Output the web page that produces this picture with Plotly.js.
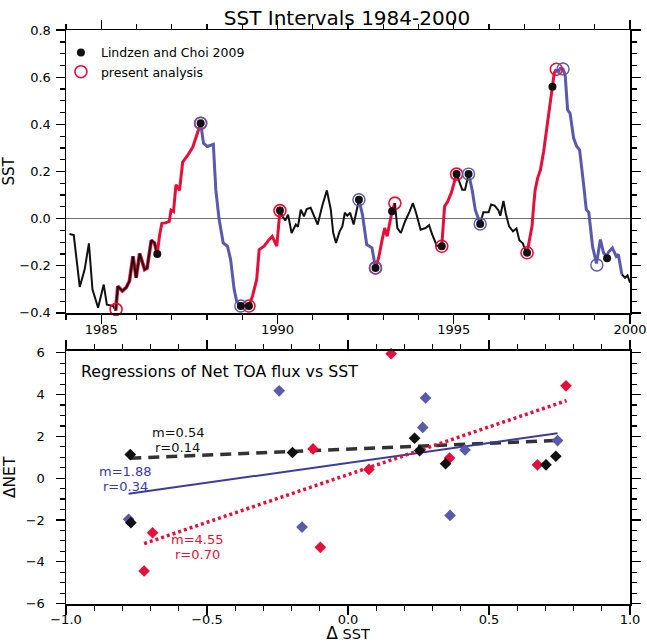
<!DOCTYPE html>
<html>
<head>
<meta charset="utf-8">
<script src="https://cdn.plot.ly/plotly-3.0.1.min.js"></script>
<style>html,body{margin:0;padding:0;background:#fff;}</style>
</head>
<body>
<div id="chart" style="width:647px;height:643px;"></div>
<script>
// ---------- Top panel: SST time series ----------
const sstYear = [
  1984.10,1984.22,1984.39,1984.53,1984.65,1984.75,1984.91,1985.07,1985.16,1985.33,1985.41,
  1985.47,1985.60,1985.71,1985.80,1985.90,1985.99,1986.09,1986.23,1986.30,1986.42,1986.51,1986.59,
  1986.65,1986.72,1986.82,1986.93,1986.98,1987.05,1987.12,1987.22,1987.31,1987.46,1987.60,1987.82,
  1987.90,1988.01,1988.10,1988.18,1988.25,1988.34,1988.46,1988.58,1988.67,1988.77,1988.84,1988.96,
  1989.19,1989.29,1989.41,1989.48,1989.62,1989.76,1989.85,1989.98,1990.07,
  1990.14,1990.22,1990.30,1990.40,1990.52,1990.58,1990.66,1990.75,1990.83,1990.94,1991.03,1991.14,
  1991.27,1991.40,1991.51,1991.58,1991.66,1991.76,1991.84,1991.91,1991.98,1992.06,1992.16,1992.31,
  1992.41,1992.53,1992.68,1992.78,
  1992.87,1992.97,1993.04,1993.11,1993.19,1993.25,1993.33,
  1993.40,1993.50,1993.62,1993.75,1993.84,1993.93,1994.06,1994.20,1994.30,1994.39,1994.52,1994.66,
  1994.74,1994.82,1994.93,1995.08,
  1995.14,1995.24,1995.32,1995.42,
  1995.52,1995.61,1995.75,
  1995.84,1995.99,1996.06,1996.16,1996.27,1996.32,1996.41,1996.48,1996.57,1996.68,1996.78,1996.86,1996.96,1997.02,1997.08,
  1997.15,1997.22,1997.27,1997.31,1997.38,1997.46,1997.55,1997.65,1997.72,1997.79,1997.85,1997.91,
  1997.96,1998.02,1998.10,1998.16,1998.23,1998.30,1998.40,1998.49,1998.57,1998.68,1998.76,1998.83,1998.94,
  1999.05,1999.16,1999.25,1999.33,1999.40,1999.50,1999.61,1999.67,1999.77,
  1999.86,1999.93,2000.00
];
const sstVal = [
  -0.065,-0.070,-0.290,-0.215,-0.105,-0.300,-0.378,-0.280,-0.365,-0.370,-0.390,
  -0.287,-0.307,-0.292,-0.265,-0.160,-0.251,-0.148,-0.216,-0.210,-0.092,-0.103,-0.150,
  -0.075,-0.020,-0.018,-0.012,0.036,0.030,0.144,0.120,0.240,0.270,0.305,0.405,
  0.320,0.306,0.310,0.315,0.123,0.000,-0.103,-0.117,-0.174,-0.300,-0.350,-0.371,
  -0.371,-0.329,-0.258,-0.131,-0.117,-0.089,-0.075,-0.117,0.034,
  0.010,-0.008,0.017,-0.061,-0.025,-0.035,0.038,0.010,0.041,0.046,0.010,-0.025,
  0.055,0.120,0.040,-0.060,-0.103,-0.055,-0.033,0.025,0.012,0.025,-0.025,0.080,
  0.017,-0.110,-0.124,-0.209,
  -0.166,-0.089,-0.040,-0.075,-0.004,0.031,0.066,
  -0.040,-0.061,-0.011,0.031,0.066,0.025,-0.047,-0.040,-0.028,-0.068,-0.115,-0.117,
  0.052,0.070,0.109,0.189,
  0.165,0.123,0.123,0.189,
  0.123,0.038,-0.023,
  0.027,0.027,0.060,0.055,0.035,0.012,0.075,0.020,-0.033,-0.054,-0.042,-0.092,-0.105,-0.130,-0.145,
  -0.096,-0.033,0.059,0.123,0.172,0.207,0.285,0.398,0.490,0.560,0.617,0.634,
  0.620,0.637,0.635,0.610,0.461,0.447,0.342,0.306,0.292,0.151,0.038,0.027,-0.120,
  -0.190,-0.089,-0.145,-0.160,-0.140,-0.124,-0.160,-0.152,-0.237,
  -0.251,-0.241,-0.272
];
// colored intervals of the line
const segStart = [1984.10,1985.41,1986.59,1987.82,1988.96,1990.07,1992.31,1992.78,1993.33,1994.66,1995.08,1995.42,1995.75,1997.08,1997.91,1999.77];
const segEnd   = [1985.41,1986.59,1987.82,1988.96,1990.07,1992.31,1992.78,1993.33,1994.66,1995.08,1995.42,1995.75,1997.08,1997.91,1999.77,2000.00];
const segKind  = ['black','both','red','blue','red','black','blue','red','black','red','black','blue','black','red','blue','black'];

// Lindzen and Choi 2009 end points
const lcYear = [1986.59,1987.82,1988.96,1989.19,1990.07,1992.31,1992.78,1993.25,1994.66,1995.08,1995.42,1995.75,1997.08,1997.80,1999.35];
const lcVal  = [-0.150,0.405,-0.371,-0.371,0.034,0.080,-0.209,0.031,-0.117,0.189,0.189,-0.023,-0.145,0.560,-0.168];
// present analysis end points
const paRedYear  = [1985.42,1987.82,1989.19,1990.07,1992.78,1993.33,1994.66,1995.08,1997.08,1997.91];
const paRedVal   = [-0.385,0.405,-0.371,0.034,-0.209,0.066,-0.117,0.189,-0.145,0.634];
const paBlueYear = [1987.82,1988.96,1992.31,1992.78,1995.42,1995.75,1998.10,1999.06];
const paBlueVal  = [0.405,-0.371,0.080,-0.209,0.189,-0.023,0.635,-0.197];

// ---------- Bottom panel: regressions ----------
const netBlackX = [-0.104,-0.772,-0.197,-0.770,0.236,0.254,0.346,0.702,0.737];
const netBlackY = [6.30,1.13,1.23,-2.13,1.91,1.32,0.69,0.64,1.05];
const netBlueX  = [-0.244,-0.778,-0.163,0.275,0.265,0.415,0.743,0.362];
const netBlueY  = [4.18,-1.97,-2.34,3.84,2.43,1.35,1.80,-1.78];
const netRedX   = [-0.124,-0.693,-0.098,-0.723,0.153,0.773,0.360,0.074,0.672];
const netRedY   = [1.40,-2.61,-3.31,-4.44,5.96,4.42,0.96,0.42,0.64];
const fitBlackX = [-0.772,0.737], fitBlackY = [0.95,1.80];
const fitBlueX  = [-0.778,0.743], fitBlueY  = [-0.75,2.15];
const fitRedX   = [-0.723,0.775], fitRedY   = [-3.13,3.71];
const fitLabelsBlack = ['m=0.54','r=0.14'];
const fitLabelsBlue  = ['m=1.88','r=0.34'];
const fitLabelsRed   = ['m=4.55','r=0.70'];

const RED = '#e2103a', BLUE = '#5a5aaa', BLUE_LINE = '#3c3a9c', BLK = '#111111';
const FONT = 'DejaVu Sans, Verdana, sans-serif';

function seg(s, e) {
  const xs = [], ys = [];
  sstYear.forEach((y, i) => { if (y >= s - 1e-6 && y <= e + 1e-6) { xs.push(y); ys.push(sstVal[i]); } });
  return [xs, ys];
}

const traces = [];
segKind.forEach((k, i) => {
  const [xs, ys] = seg(segStart[i], segEnd[i]);
  const base = {x: xs, y: ys, mode: 'lines', xaxis: 'x', yaxis: 'y', showlegend: false, hoverinfo: 'skip'};
  if (k === 'both') {
    traces.push(Object.assign({}, base, {line: {color: RED, width: 3.6}}));
    traces.push(Object.assign({}, base, {line: {color: BLK, width: 1.8}}));
  } else if (k === 'red') {
    traces.push(Object.assign({}, base, {line: {color: RED, width: 3}}));
  } else if (k === 'blue') {
    traces.push(Object.assign({}, base, {line: {color: BLUE, width: 3}}));
  } else {
    traces.push(Object.assign({}, base, {line: {color: BLK, width: 2}}));
  }
});
traces.push({x: paRedYear, y: paRedVal, mode: 'markers', name: 'present analysis', legendrank: 2,
  marker: {symbol: 'circle-open', size: 12, color: RED, line: {color: RED, width: 1.6}}, xaxis: 'x', yaxis: 'y', cliponaxis: false});
traces.push({x: paBlueYear, y: paBlueVal, mode: 'markers', showlegend: false,
  marker: {symbol: 'circle-open', size: 12, color: BLUE, line: {color: BLUE, width: 1.4}}, xaxis: 'x', yaxis: 'y', cliponaxis: false});
traces.push({x: lcYear, y: lcVal, mode: 'markers', name: 'Lindzen and Choi 2009', legendrank: 1,
  marker: {symbol: 'circle', size: 8, color: BLK}, xaxis: 'x', yaxis: 'y', cliponaxis: false});

// bottom panel
traces.push({x: fitBlackX, y: fitBlackY, mode: 'lines', showlegend: false, xaxis: 'x2', yaxis: 'y2',
  line: {color: '#333333', width: 3.5, dash: '11px,7px'}});
traces.push({x: fitBlueX, y: fitBlueY, mode: 'lines', showlegend: false, xaxis: 'x2', yaxis: 'y2',
  line: {color: BLUE_LINE, width: 2}});
traces.push({x: fitRedX, y: fitRedY, mode: 'lines', showlegend: false, xaxis: 'x2', yaxis: 'y2',
  line: {color: RED, width: 3.5, dash: '3px,3px'}});
traces.push({x: netBlueX, y: netBlueY, mode: 'markers', showlegend: false, xaxis: 'x2', yaxis: 'y2', cliponaxis: false,
  marker: {symbol: 'diamond', size: 9, color: BLUE}});
traces.push({x: netRedX, y: netRedY, mode: 'markers', showlegend: false, xaxis: 'x2', yaxis: 'y2', cliponaxis: false,
  marker: {symbol: 'diamond', size: 9, color: RED}});
traces.push({x: netBlackX, y: netBlackY, mode: 'markers', showlegend: false, xaxis: 'x2', yaxis: 'y2', cliponaxis: false,
  marker: {symbol: 'diamond', size: 9, color: BLK}});

const axBase = {
  showgrid: false, showline: true, linecolor: '#000', linewidth: 1.5, mirror: 'ticks',
  ticks: 'outside', ticklen: 9, tickwidth: 1.3, tickcolor: '#000', automargin: false,
  tickfont: {family: FONT, size: 13, color: '#000'}, zeroline: false, fixedrange: true
};
const minorBase = {ticks: 'outside', ticklen: 5, tickwidth: 1.2, tickcolor: '#000', showgrid: false};

const annFont = (c) => ({family: FONT, size: 13, color: c});
const ann = [];
ann.push({xref: 'paper', yref: 'paper', x: (79 - 66) / 564.5, y: 1 - (371 - 30) / 574, xanchor: 'left', yanchor: 'middle',
  text: 'Regressions of Net TOA flux vs SST', showarrow: false, font: {family: FONT, size: 15.8, color: '#000'}});
ann.push({xref: 'x2', yref: 'y2', x: -0.600, y: 2.17, text: fitLabelsBlack[0], showarrow: false, font: annFont('#111')});
ann.push({xref: 'x2', yref: 'y2', x: -0.604, y: 1.46, text: fitLabelsBlack[1], showarrow: false, font: annFont('#111')});
ann.push({xref: 'x2', yref: 'y2', x: -0.788, y: 0.30, text: fitLabelsBlue[0], showarrow: false, font: annFont(BLUE_LINE)});
ann.push({xref: 'x2', yref: 'y2', x: -0.790, y: -0.42, text: fitLabelsBlue[1], showarrow: false, font: annFont(BLUE_LINE)});
ann.push({xref: 'x2', yref: 'y2', x: -0.532, y: -2.93, text: fitLabelsRed[0], showarrow: false, font: annFont(RED)});
ann.push({xref: 'x2', yref: 'y2', x: -0.532, y: -3.64, text: fitLabelsRed[1], showarrow: false, font: annFont(RED)});

const layout = {
  width: 647, height: 643,
  margin: {l: 66, r: 16.5, t: 30, b: 39},
  paper_bgcolor: '#fff', plot_bgcolor: 'rgba(0,0,0,0)',
  title: {text: 'SST Intervals 1984-2000', x: 347 / 647, xanchor: 'center', y: 1 - 18 / 643, yanchor: 'middle',
          font: {family: FONT, size: 20, color: '#000'}},
  showlegend: true,
  legend: {x: -0.009, y: 0.9864, xanchor: 'left', yanchor: 'top', bgcolor: 'rgba(0,0,0,0)', borderwidth: 0,
           font: {family: FONT, size: 12.5, color: '#000'}, tracegroupgap: 0, itemwidth: 30},
  xaxis: Object.assign({}, axBase, {domain: [0, 1], range: [1984, 2000], anchor: 'y', tick0: 1985, dtick: 5,
          ticklabelstandoff: -5,
          minor: Object.assign({}, minorBase, {dtick: 1, tick0: 1984})}),
  yaxis: Object.assign({}, axBase, {domain: [1 - 283 / 574, 1], range: [-0.4005, 0.8005], anchor: 'x', dtick: 0.2, tick0: 0,
          tickformat: '.1f', ticklabelstandoff: 2,
          zeroline: true, zerolinecolor: '#707070', zerolinewidth: 1.5,
          minor: Object.assign({}, minorBase, {dtick: 0.05}),
          title: {text: 'SST', font: {family: FONT, size: 15, color: '#000'}, standoff: 8}}),
  xaxis2: Object.assign({}, axBase, {domain: [0, 1], range: [-1, 1], anchor: 'y2', dtick: 0.5, tick0: 0, tickformat: '.1f',
          ticklabelstandoff: -6,
          minor: Object.assign({}, minorBase, {dtick: 0.1}),
          title: {text: '<span style="font-size:17px">Δ</span> SST', font: {family: FONT, size: 14.5, color: '#000'}, standoff: 6}}),
  yaxis2: Object.assign({}, axBase, {domain: [0, (604 - 350.7) / 574], range: [-6.02, 6.1], anchor: 'x2', dtick: 2, tick0: 0,
          ticklabelstandoff: 8,
          minor: Object.assign({}, minorBase, {dtick: 0.5}),
          title: {text: 'ΔNET', font: {family: FONT, size: 15.5, color: '#000'}, standoff: 6}}),
  annotations: ann
};

Plotly.newPlot('chart', traces, layout, {staticPlot: true, displayModeBar: false});
</script>
</body>
</html>
